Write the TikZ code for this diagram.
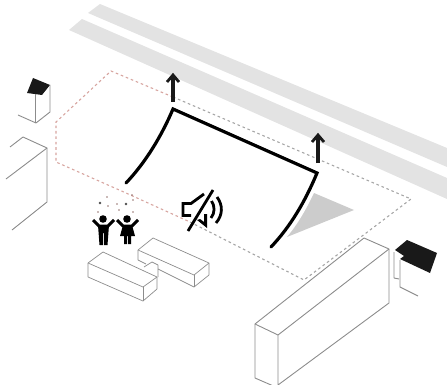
\documentclass[tikz,border=0pt]{standalone}
\tikzset{
  outline/.style={draw=black!45,line width=0.9pt,line join=round},
  blockline/.style={draw=black!45,line width=0.7pt,line join=round},
  roadband/.style={fill=black!11},
  siteline/.style={line width=1.1pt,dash pattern=on 2.6pt off 2.8pt},
  screenline/.style={black,line width=3.2pt,line cap=round,line join=miter},
  riseline/.style={black!90,line width=3.2pt},
  risehead/.style={black!90,line width=2.8pt,line join=miter},
  kid/.style={black,line width=3pt},
  speakerline/.style={black,line width=2.8pt,line join=miter},
}
\definecolor{sitered}{RGB}{215,165,160}
\begin{document}
\begin{tikzpicture}[x=1pt,y=-1pt]
  \useasboundingbox (0,0) rectangle (447,385);
  % road
  \fill[roadband] (88,13)--(100,4)--(447,148)--(447,167)--cycle;
  \fill[roadband] (69,30)--(82,19)--(447,178)--(447,199)--cycle;
  % site boundary
  \draw[siteline,sitered] (173,97)--(111,71)--(56,122)--(56,162)--(126,193)--(190,222);
  \draw[siteline,black!35] (173,97)--(411,199)--(304,280)--(190,222);
  % rise arrows
  \coordinate (riseA) at (173,102);
  \coordinate (riseB) at (318,163);
  \coordinate (riseAtop) at (173,75);
  \coordinate (riseBtop) at (318,135);
  \draw[riseline] (riseA)--(riseAtop);
  \draw[riseline] (riseB)--(riseBtop);
  \draw[risehead] (167,82)--(173,75)--(179,82);
  \draw[risehead] (312,142)--(318,135)--(324,142);
  % shadow and screen
  \fill[black!20] (314,193)--(354,210)--(287,237) .. controls (298,224) and (307,208) .. cycle;
  \draw[screenline] (126,183) .. controls (146,162) and (162,135) .. (173,109)--(317,173) .. controls (305,202) and (290,227) .. (271,247);
  % left house
  \fill[black!90] (33,78)--(50,85)--(42,95)--(27,93)--cycle;
  \draw[outline] (50,85)--(50,112)--(36,123)--(18,115);
  \draw[outline] (35,94)--(35,123);
  % left block
  \draw[outline] (10,147)--(23,137)--(47,148)--(6,179);
  \draw[outline] (47,148)--(47,202)--(12,230);
  % playground blocks
  \draw[blockline] (144,267)--(152,262)--(158,265)--(158,277);
  \draw[blockline] (88,263)--(103,252)--(157,277)--(143,287)--cycle;
  \draw[blockline] (88,263)--(88,277)--(143,301)--(157,289)--(157,277);
  \draw[blockline] (143,287)--(143,301);
  \draw[blockline] (138,250)--(153,238)--(209,263)--(194,275)--cycle;
  \draw[blockline] (138,250)--(138,260)--(146,264);
  \draw[blockline] (158,269)--(194,287)--(209,275)--(209,263);
  \draw[blockline] (194,275)--(194,287);
  % large block
  \draw[outline] (255,324)--(364,238)--(389,249)--(278,335)--cycle;
  \draw[outline] (255,324)--(255,378)--(278,388);
  \draw[outline] (278,335)--(278,385)--(389,303)--(389,249);
  % right house
  \fill[black!90] (395,250)--(407,240)--(437,253)--(430,273)--(400,259)--(404,256)--cycle;
  \draw[outline] (394,252)--(394,278)--(399,279);
  \draw[outline] (400,260)--(400,287)--(418,296);
  % kids
  \fill[black] (103,219) circle (3.8pt);
  \fill[black] (127,219) circle (3.8pt);
  \draw[kid,line join=round] (93,220)--(99,226)--(108,226)--(114,220);
  \fill[black] (98,225)--(109,225)--(107.5,245)--(104,245)--(104,233)--(103,233)--(103,245)--(99.5,245)--cycle;
  \draw[kid,line join=round] (117,220)--(123,226)--(132,226)--(138,220);
  \fill[black] (123,225)--(132,225)--(135,236)--(131,236)--(131,244)--(128,244)--(128,236)--(127,236)--(127,244)--(124,244)--(124,236)--(120,236)--cycle;
  % confetti
  \foreach \px/\py in {100/203,126/204}
    \fill[black!70] (\px,\py) circle (1.4pt);
  \foreach \px/\py in {107/197,108/206,117/204,119/210,132/195,133/200,98/212,133/212}
    \fill[sitered!70!black] (\px,\py) circle (0.9pt);
  % speaker
  \draw[speakerline] (204,194)--(191,203.5)--(183,203.5)--(183,215.5)--(191,215.5);
  \fill[black] (207,214)--(207,228)--(197,220)--(200,219)--(204,222)--(204,214)--cycle;
  \draw[speakerline] (188,231)--(213,190);
  \draw[speakerline] (211.5,201) .. controls (215,206) and (215,213) .. (211,218);
  \draw[speakerline] (217,197) .. controls (223,205) and (223,215) .. (216,223);
\end{tikzpicture}
\end{document}
